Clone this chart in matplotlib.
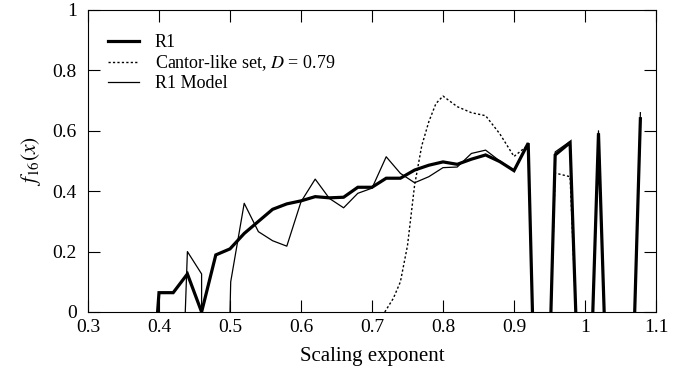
import matplotlib
matplotlib.use("Agg")
import matplotlib.pyplot as plt
from matplotlib.ticker import FuncFormatter

nan = float("nan")

# R1 (thick); nan marks a break where the curve sits on zero
r1_x = [0.398, 0.40, 0.42, 0.44, 0.46, 0.48, 0.50, 0.52, 0.54, 0.56, 0.58, 0.60,
        0.62, 0.64, 0.66, 0.68, 0.70, 0.72, 0.74, 0.76, 0.78, 0.80, 0.82, 0.84,
        0.86, 0.88, 0.90, 0.92, 0.926, nan, 0.952, 0.958, 0.979, 0.987, nan,
        1.011, 1.019, 1.027, nan, 1.070, 1.078]
r1_y = [0.0, 0.064, 0.064, 0.126, 0.0, 0.189, 0.209, 0.26, 0.30, 0.34, 0.358, 0.368,
        0.382, 0.378, 0.38, 0.413, 0.413, 0.443, 0.443, 0.47, 0.486, 0.497, 0.489, 0.506,
        0.52, 0.498, 0.468, 0.559, 0.0, nan, 0.0, 0.52, 0.561, 0.0, nan,
        0.0, 0.592, 0.0, nan, 0.0, 0.64]

# Cantor-like set (dotted)
cantor_x = [0.718, 0.73, 0.74, 0.75, 0.76, 0.77, 0.78, 0.79, 0.80, 0.82, 0.84, 0.86,
            0.88, 0.90, 0.92, 0.926, nan, 0.952, 0.958, 0.979, 0.987, nan,
            1.011, 1.019, 1.027, nan, 1.070, 1.078]
cantor_y = [0.0, 0.045, 0.10, 0.22, 0.42, 0.55, 0.63, 0.69, 0.715, 0.68, 0.66, 0.65,
            0.59, 0.515, 0.553, 0.0, nan, 0.0, 0.46, 0.448, 0.0, nan,
            0.0, 0.59, 0.0, nan, 0.0, 0.62]

# R1 Model (thin)
model_x = [0.437, 0.44, 0.46, 0.46, nan, 0.50, 0.501, 0.52, 0.54, 0.56, 0.58, 0.60,
           0.62, 0.64, 0.66, 0.68, 0.70, 0.72, 0.74, 0.76, 0.78, 0.80, 0.82, 0.84,
           0.86, 0.88, 0.90, 0.92, 0.926, nan, 0.952, 0.958, 0.979, 0.987, nan,
           1.011, 1.019, 1.027, nan, 1.070, 1.078]
model_y = [0.0, 0.2, 0.126, 0.0, nan, 0.0, 0.1, 0.36, 0.266, 0.236, 0.218, 0.365,
           0.44, 0.376, 0.345, 0.393, 0.41, 0.514, 0.459, 0.428, 0.448, 0.478, 0.48, 0.525,
           0.536, 0.50, 0.468, 0.559, 0.0, nan, 0.0, 0.53, 0.565, 0.0, nan,
           0.0, 0.60, 0.0, nan, 0.0, 0.66]

x_ticks = [0.3, 0.4, 0.5, 0.6, 0.7, 0.8, 0.9, 1.0, 1.1]
y_ticks = [0, 0.2, 0.4, 0.6, 0.8, 1.0]

plt.rcParams["font.family"] = ["Liberation Serif", "DejaVu Serif"]
plt.rcParams["mathtext.fontset"] = "stix"
plt.rcParams["font.size"] = 13


def main():
    fig = plt.figure(figsize=(6.94, 3.76), dpi=100)
    ax = fig.add_axes([88 / 694, 1 - 312 / 376, 568 / 694, 302 / 376])

    ax.plot(r1_x, r1_y, color="black", lw=2.3, label="R1", solid_joinstyle="miter")
    ax.plot(cantor_x, cantor_y, color="black", lw=1.0, dashes=(1.6, 1.6),
            label="Cantor-like set, $D$ = 0.79")
    ax.plot(model_x, model_y, color="black", lw=0.9, label="R1 Model")

    ax.set_xlim(0.3, 1.1)
    ax.set_ylim(0, 1)
    ax.set_xticks(x_ticks)
    ax.set_yticks(y_ticks)
    fmt = FuncFormatter(lambda v, p: f"{v:g}")
    ax.xaxis.set_major_formatter(fmt)
    ax.yaxis.set_major_formatter(fmt)
    ax.tick_params(direction="in", top=True, right=True, length=8.5, width=0.8,
                   labelsize=14)
    ax.tick_params(axis="y", pad=8)
    ax.tick_params(axis="x", pad=5)
    for s in ax.spines.values():
        s.set_linewidth(0.8)

    ax.set_xlabel("Scaling exponent", fontsize=15, labelpad=8)
    ax.set_ylabel("$f_{16}(x)$", fontsize=15.5, labelpad=7)

    ax.legend(loc="upper left", bbox_to_anchor=(0.035, 0.92), frameon=False,
              borderaxespad=0, borderpad=0, handlelength=1.75, handletextpad=0.85,
              labelspacing=0.12, fontsize=13)

    fig.savefig("out.png", dpi=100)


if __name__ == "__main__":
    main()
